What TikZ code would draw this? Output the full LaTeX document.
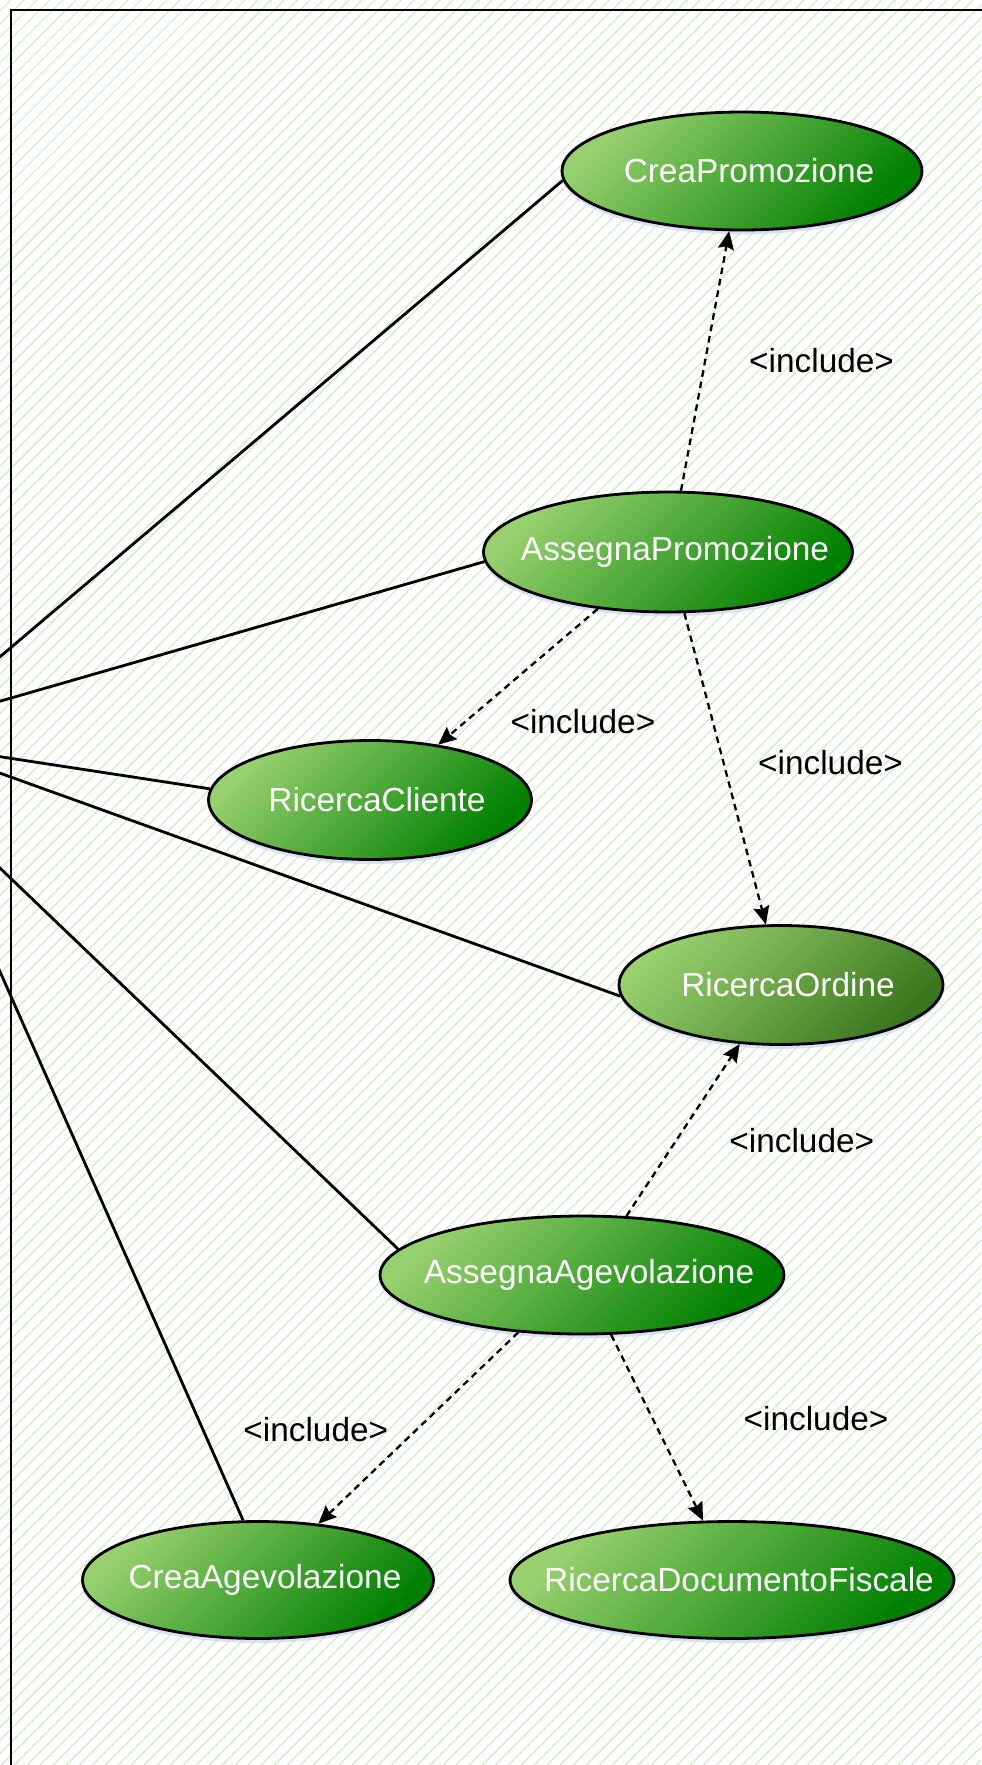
\documentclass[tikz,border=0pt]{standalone}
\usepackage{fontspec}
\setmainfont{Liberation Sans}
\usetikzlibrary{shapes.geometric,arrows.meta,shadows}

\definecolor{ucLight}{RGB}{151,208,110}
\definecolor{ucDark}{RGB}{0,128,0}
\definecolor{ucOlive}{RGB}{58,118,28}
\definecolor{hatchGreen}{RGB}{205,232,190}
\definecolor{shadowBlue}{RGB}{200,215,240}

% keep the label from widening the ellipse
\newcommand{\uctext}[1]{\makebox[0pt]{\hspace{0.28cm}#1}}

\begin{document}
\begin{tikzpicture}[x=0.02cm, y=-0.02cm]

\tikzstyle{usecase}=[ellipse, draw, line width=1.6pt, inner sep=0pt, text=white, font=\fontsize{19}{22}\selectfont, top color=ucLight, bottom color=ucDark, shading angle=45, drop shadow={shadow xshift=0pt, shadow yshift=-2.5pt, fill=shadowBlue, opacity=0.7}]
\tikzstyle{assoc}=[line width=1.6pt]
\tikzstyle{incl}=[-{Stealth[length=0.36cm, width=0.32cm, inset=0.05cm]}, line width=1.3pt, dash pattern=on 3.8pt off 2.8pt]
\tikzstyle{lbl}=[inner sep=0pt, font=\fontsize{19}{22}\selectfont]
\tikzstyle{hatch}=[hatchGreen, line width=0.6pt]

\useasboundingbox (0,0) rectangle (981,1765);

% background
\begin{scope}
\clip (0,0) rectangle (981,1765);
\foreach \i in {-1780,-1767,...,985}
  \draw [hatch] (\i,1765) -- ++(1765,-1765);
\end{scope}
\draw [line width=1.1pt] (11,1790) |- (1000,10);

% actor (outside the frame)
\node (actor) [minimum width=1.2cm, minimum height=1.34cm, inner sep=0pt] at (-110,758) {};

\node (cp) [usecase, minimum width=7.2cm, minimum height=2.36cm] at (742,171) {\uctext{CreaPromozione}};
\node (ap) [usecase, minimum width=7.38cm, minimum height=2.4cm] at (668,552) {\uctext{AssegnaPromozione}};
\node (rc) [usecase, minimum width=6.46cm, minimum height=2.38cm] at (370,800) {\uctext{RicercaCliente}};
\node (ro) [usecase, bottom color=ucOlive, shading angle=45, minimum width=6.48cm, minimum height=2.38cm] at (781,985) {\uctext{RicercaOrdine}};
\node (aa) [usecase, minimum width=8.08cm, minimum height=2.36cm] at (582,1275) {\uctext{AssegnaAgevolazione}};
\node (ca) [usecase, minimum width=7.02cm, minimum height=2.34cm] at (258,1580) {\uctext{CreaAgevolazione}};
\node (rdf) [usecase, minimum width=8.88cm, minimum height=2.34cm] at (732,1580) {\uctext{RicercaDocumentoFiscale}};

\draw [assoc] (actor.north east) -- (cp.183);
\draw [assoc] (actor.north east) -- (ap.183);
\draw [assoc] (actor.24) -- (rc.176);
\draw [assoc] (actor.24) -- (ro.184);
\draw [assoc] (actor.south east) -- (aa.172);
\draw [assoc] (actor.south east) -- (ca.104);

\draw [incl] (ap.78) -- node[pos=0.5, right=0.86cm, lbl] {<include>} (cp.258);
\draw [incl] (ap.219) -- node[pos=0.83, right=0.88cm, lbl] {<include>} (rc.39);
\draw [incl] (ap.285) -- node[pos=0.48, right=0.67cm, lbl] {<include>} (ro.104);
\draw [incl] (aa.53) -- node[pos=0.44, right=1.04cm, lbl] {<include>} (ro.235);
\draw [incl] (aa.222) -- node[pos=0.51, left=0.54cm, lbl] {<include>} (ca.43);
\draw [incl] (aa.296) -- node[pos=0.45, right=1.8cm, lbl] {<include>} (rdf.116);

\end{tikzpicture}
\end{document}
